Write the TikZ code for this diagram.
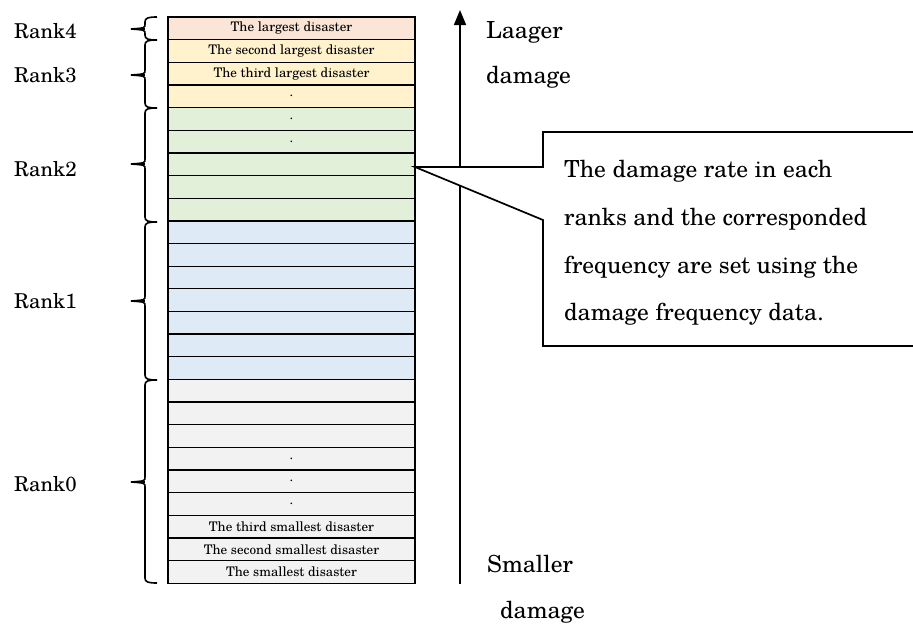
\documentclass[tikz,border=0pt]{standalone}
\usepackage{fontspec}
\setmainfont{TeX Gyre Schola}
\usetikzlibrary{arrows.meta}

\definecolor{rkpink}{HTML}{FBE5D6}
\definecolor{rkyellow}{HTML}{FFF2CC}
\definecolor{rkgreen}{HTML}{E2F0D9}
\definecolor{rkblue}{HTML}{DEEBF7}
\definecolor{rkgray}{HTML}{F2F2F2}

% curly brace spanning rows: #1 = top, #2 = tip, #3 = bottom (all y values)
\newcommand\rkbrace[3]{%
  \draw[bracestroke] (157,#1) .. controls (148,#1) and (145,#1+1) .. (145,#1+5)
        -- (145,#2-5) .. controls (145,#2-1) .. (131,#2)
        .. controls (145,#2+1) .. (145,#2+5)
        -- (145,#3-5) .. controls (145,#3-1) and (148,#3) .. (157,#3);
  \draw[line width=2.4pt] (131,#2) -- (145,#2);
}

\begin{document}
\begin{tikzpicture}[x=1pt,y=-1pt,
  cell/.style={draw=black, line width=1.3pt, minimum width=247pt, minimum height=22.65pt,
               inner sep=0pt, font=\fontsize{13.2}{14}\selectfont},
  ranklbl/.style={anchor=base west, inner sep=0pt, font=\fontsize{20.5}{22}\selectfont},
  biglbl/.style={anchor=base west, inner sep=0pt, font=\fontsize{23.5}{26}\selectfont},
  bracestroke/.style={line width=1.6pt},
  axis/.style={line width=1.7pt, -{Triangle[width=12pt,length=15pt]}},
  callout/.style={draw=black, line width=1.7pt, fill=white, line join=miter}
]
\useasboundingbox (0,0) rectangle (913,624);
\clip (0,0) rectangle (913,624);

% stacked disaster rows
\foreach \i/\c/\t in {
   1/rkpink/The largest disaster,
   2/rkyellow/The second largest disaster,
   3/rkyellow/The third largest disaster,
   4/rkyellow/.,
   5/rkgreen/., 6/rkgreen/., 7/rkgreen/, 8/rkgreen/, 9/rkgreen/,
   10/rkblue/, 11/rkblue/, 12/rkblue/, 13/rkblue/, 14/rkblue/, 15/rkblue/, 16/rkblue/,
   17/rkgray/, 18/rkgray/, 19/rkgray/,
   20/rkgray/., 21/rkgray/., 22/rkgray/.,
   23/rkgray/The third smallest disaster,
   24/rkgray/The second smallest disaster,
   25/rkgray/The smallest disaster}
  \node[cell, fill=\c] (r\i) at (291.5, {17+(\i-0.5)*22.65}) {\t};

% rank braces
\rkbrace{17}{29}{40}
\rkbrace{40}{75}{108}
\rkbrace{108}{164}{222}
\rkbrace{222}{301}{380}
\rkbrace{380}{482}{583}

% rank labels
\node[ranklbl] (rank4) at (14,38) {Rank4};
\node[ranklbl] (rank3) at (14,82) {Rank3};
\node[ranklbl] (rank2) at (14,176) {Rank2};
\node[ranklbl] (rank1) at (14,308) {Rank1};
\node[ranklbl] (rank0) at (14,491) {Rank0};

% damage axis
\coordinate (abot) at (460,584);
\coordinate (atop) at (460,10);
\draw[axis] (abot) -- (atop);

\node[biglbl] (lg1) at (486,38) {Laager};
\node[biglbl] (lg2) at (486,83) {damage};
\node[biglbl] (sm1) at (487,572) {Smaller};
\node[biglbl] (sm2) at (500,618) {damage};

% callout box pointing at the rows
\coordinate (tip) at (415,167);
\draw[callout] (tip) -- (543,167) -- (543,132) -- (930,132) -- (930,346)
   -- (543,346) -- (543,220) -- cycle;

\node[biglbl] (c1) at (564,177) {The damage rate in each};
\node[biglbl] (c2) at (564,225) {ranks and the corresponded};
\node[biglbl] (c3) at (564,273) {frequency are set using the};
\node[biglbl] (c4) at (564,320) {damage frequency data.};
\end{tikzpicture}
\end{document}
